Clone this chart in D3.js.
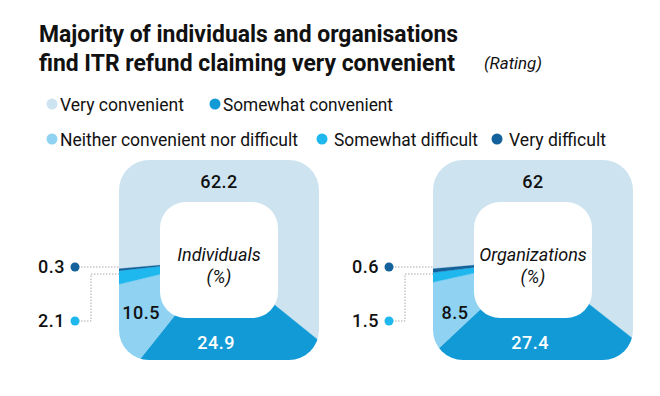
<!DOCTYPE html>
<html>
<head>
<meta charset="utf-8">
<script src="https://cdn.jsdelivr.net/npm/d3@7"></script>
<style>
  body { margin: 0; background: #fff; }
  text { font-family: Roboto, "Noto Sans", sans-serif; fill: #111; }
</style>
</head>
<body>
<div id="chart"></div>
<script>
// size of the canvas
var width = 660,
    height = 396;

// rating categories, in pie order
var categories = ["Very convenient", "Somewhat convenient", "Neither convenient nor difficult", "Somewhat difficult", "Very difficult"];
var colors = ["#cde4f0", "#129ad6", "#8fd2f2", "#1eb8ee", "#14629b"];

// the two groups and their shares (%)
var groups = ["Individuals", "Organizations"];
var individuals = [62.2, 24.9, 10.5, 2.1, 0.3];
var organizations = [62, 27.4, 8.5, 1.5, 0.6];
var valueLabels = [["62.2", "24.9", "10.5", "2.1", "0.3"], ["62", "27.4", "8.5", "1.5", "0.6"]];

var svg = d3.select("#chart").append("svg")
    .attr("width", width)
    .attr("height", height);

// title
var title = svg.append("g").attr("class", "title");
title.append("text").attr("x", 39).attr("y", 42)
    .attr("font-size", 23).attr("font-weight", 700)
    .attr("textLength", 419).attr("lengthAdjust", "spacingAndGlyphs")
    .text("Majority of individuals and organisations");
title.append("text").attr("x", 39).attr("y", 71)
    .attr("font-size", 23).attr("font-weight", 700)
    .attr("textLength", 416).attr("lengthAdjust", "spacingAndGlyphs")
    .text("find ITR refund claiming very convenient");
title.append("text").attr("x", 484).attr("y", 69)
    .attr("font-size", 16).attr("font-style", "italic")
    .attr("textLength", 58).attr("lengthAdjust", "spacingAndGlyphs")
    .text("(Rating)");

// legend: two rows
var legendPos = [[52, 104], [215, 104], [52, 139], [322, 139], [497, 139]];
var legendLen = [124, 170, 238, 144, 97];
var legend = svg.append("g").selectAll("g")
    .data(categories)
    .enter().append("g")
    .attr("transform", function(d, i) { return "translate(" + legendPos[i][0] + "," + legendPos[i][1] + ")"; });
legend.append("circle")
    .attr("r", 5.5)
    .attr("fill", function(d, i) { return colors[i]; });
legend.append("text")
    .attr("x", function(d, i) { return i >= 3 ? 12 : 8; })
    .attr("y", 6.5)
    .attr("font-size", 18)
    .attr("textLength", function(d, i) { return legendLen[i]; })
    .attr("lengthAdjust", "spacingAndGlyphs")
    .text(function(d) { return d; });

// pie layout, starting just past 9 o'clock and running clockwise
var pie = d3.pie()
    .sort(null)
    .startAngle(-95 * Math.PI / 180)
    .endAngle(265 * Math.PI / 180);

var arc = d3.arc().innerRadius(0).outerRadius(160);

var boxSize = 200, boxR = 30, holeW = 118, holeH = 116, holeR = 26;
var centers = [219, 533];
var cy = 260;

// where the in-box labels sit (angle in degrees, radius)
var labelSpots = [[0, 78], [182, 83], [236, 94]];

[individuals, organizations].forEach(function(values, g) {
  var cx = centers[g];
  var chart = svg.append("g").attr("transform", "translate(" + cx + "," + cy + ")");

  svg.append("clipPath").attr("id", "clip" + g)
    .append("rect")
      .attr("x", -boxSize / 2).attr("y", -boxSize / 2)
      .attr("width", boxSize).attr("height", boxSize)
      .attr("rx", boxR);

  chart.append("g").attr("clip-path", "url(#clip" + g + ")")
    .selectAll("path")
    .data(pie(values))
    .enter().append("path")
      .attr("d", arc)
      .attr("fill", function(d, i) { return colors[i]; })
      .attr("stroke", function(d, i) { return colors[i]; })
      .attr("stroke-width", 0.3);

  // white hole in the middle
  chart.append("rect")
    .attr("x", -holeW / 2).attr("y", -holeH / 2)
    .attr("width", holeW).attr("height", holeH)
    .attr("rx", holeR)
    .attr("fill", "#fff");

  chart.append("text").attr("text-anchor", "middle").attr("y", 1)
    .attr("font-size", 18).attr("font-style", "italic")
    .text(groups[g]);
  chart.append("text").attr("text-anchor", "middle").attr("y", 23)
    .attr("font-size", 18).attr("font-style", "italic")
    .text("(%)");

  // labels inside the box
  labelSpots.forEach(function(s, i) {
    var a = s[0] * Math.PI / 180;
    chart.append("text")
      .attr("x", s[1] * Math.sin(a))
      .attr("y", -s[1] * Math.cos(a) + 6)
      .attr("text-anchor", "middle")
      .attr("font-size", 18)
      .attr("font-weight", 500)
      .attr("letter-spacing", 0.5)
      .style("fill", i === 1 ? "#fff" : "#111")
      .text(valueLabels[g][i]);
  });

  // callouts for the two thin slices
  var left = -boxSize / 2;
  var dotX = left - 44;
  var dotted = { stroke: "#aaa", "stroke-width": 1, "stroke-dasharray": "1.5,1.5", fill: "none" };

  var p1 = chart.append("path")
    .attr("d", "M" + dotX + "," + 7 + "H" + left);
  var p2 = chart.append("path")
    .attr("d", "M" + dotX + "," + 61 + "H" + (dotX + 16) + "V" + 14 + "H" + left);
  [p1, p2].forEach(function(p) { for (var k in dotted) p.attr(k, dotted[k]); });

  [[4, 7], [3, 61]].forEach(function(c) {
    chart.append("circle")
      .attr("cx", dotX).attr("cy", c[1])
      .attr("r", 4.5)
      .attr("fill", colors[c[0]]);
    chart.append("text")
      .attr("x", dotX - 10).attr("y", c[1] + 6)
      .attr("text-anchor", "end")
      .attr("font-size", 18)
      .attr("font-weight", 500)
      .attr("letter-spacing", 0.5)
      .text(valueLabels[g][c[0]]);
  });
});
</script>
</body>
</html>
